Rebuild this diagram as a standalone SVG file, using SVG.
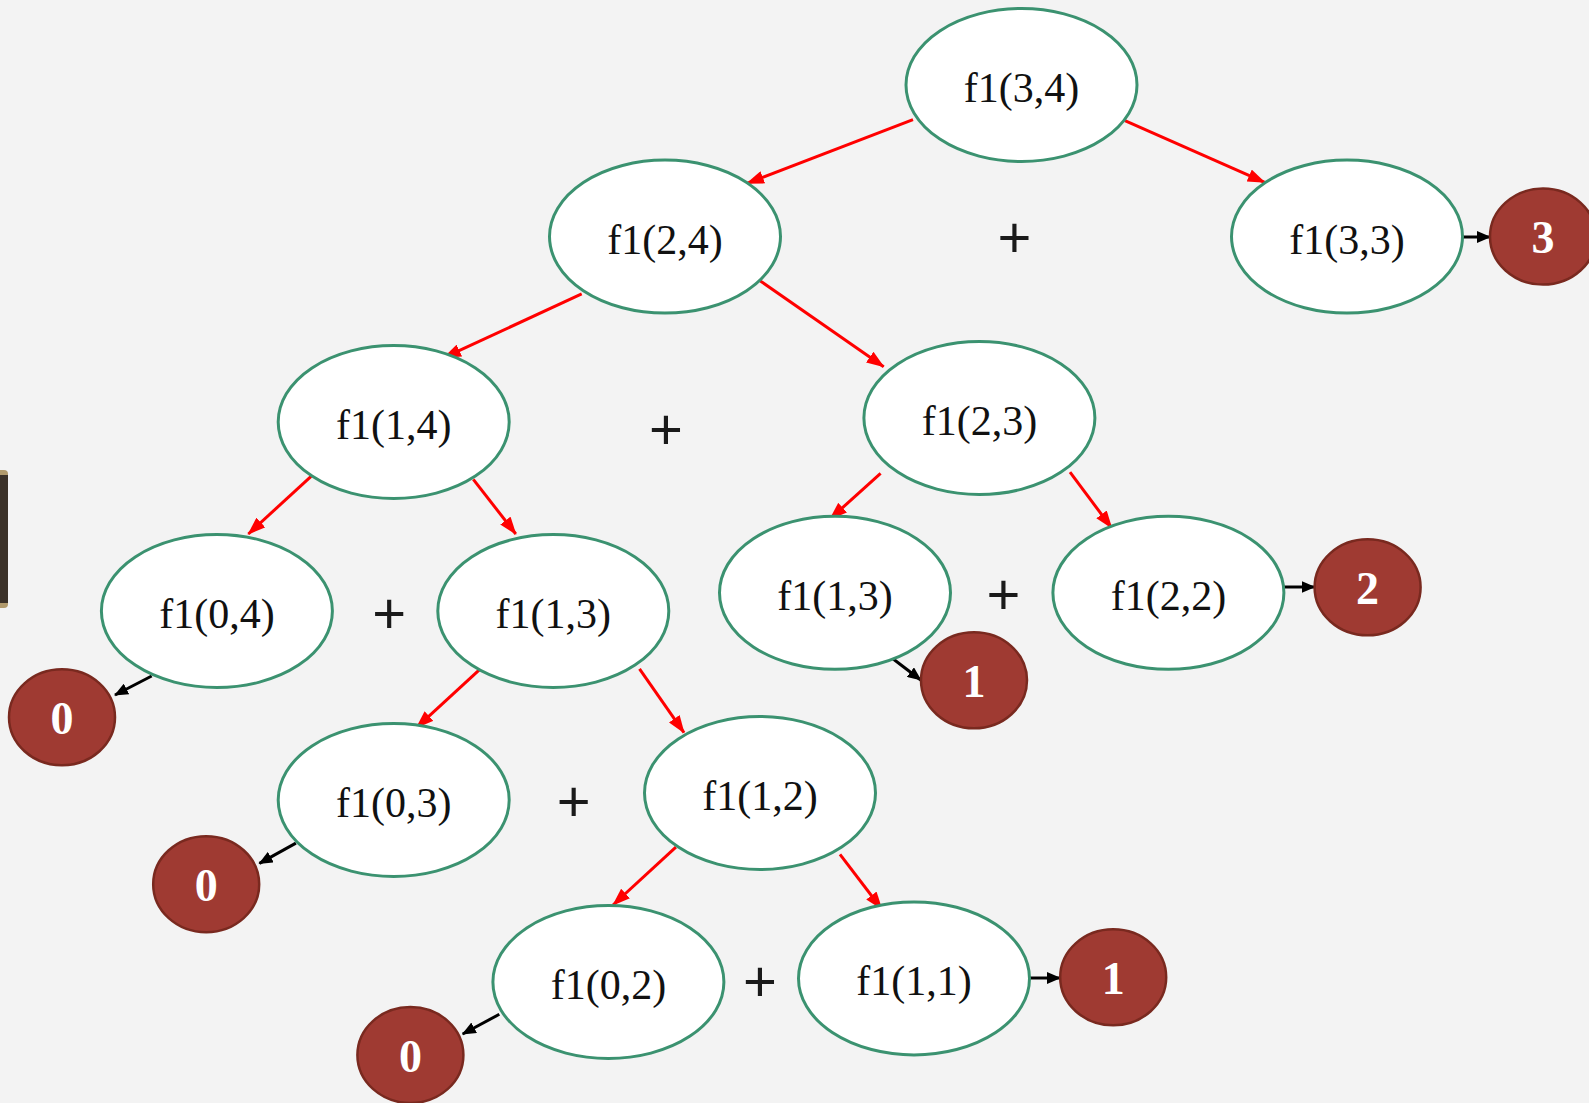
<svg xmlns="http://www.w3.org/2000/svg" width="1589" height="1103" viewBox="0 0 1589 1103">
  <style>
    .call ellipse { fill: #ffffff; stroke: #3b9270; stroke-width: 3; }
    .call text { font-family: "Liberation Serif", "DejaVu Serif", serif; font-size: 42px; fill: #111111; text-anchor: middle; }
    .res ellipse { fill: #9f3a32; stroke: #79291f; stroke-width: 2.5; }
    .res text { font-family: "Liberation Serif", "DejaVu Serif", serif; font-size: 46px; font-weight: bold; fill: #ffffff; text-anchor: middle; }
    .plus { font-family: "Liberation Sans", Arial, sans-serif; font-size: 58px; fill: #1a1a1a; text-anchor: middle; }
    .rec { stroke: #ff0000; stroke-width: 3; fill: none; marker-end: url(#redHead); }
    .ret { stroke: #000000; stroke-width: 3; fill: none; marker-end: url(#blackHead); }
  </style>
  <defs>
    <marker id="redHead" markerUnits="userSpaceOnUse" markerWidth="18" markerHeight="13" refX="17" refY="6.5" orient="auto">
      <path d="M0,0 L18,6.5 L0,13 z" fill="#ff0000"/>
    </marker>
    <marker id="blackHead" markerUnits="userSpaceOnUse" markerWidth="14" markerHeight="12" refX="13" refY="6" orient="auto">
      <path d="M0,0 L14,6 L0,12 z" fill="#000000"/>
    </marker>
  </defs>

  <!-- paper background -->
  <rect x="0" y="0" width="1589" height="1103" fill="#f3f3f3"/>

  <!-- dark bar at the left edge -->
  <g id="edge-bar">
    <rect x="-4" y="470" width="12" height="138" rx="4" fill="#b19a6c"/>
    <rect x="-4" y="475" width="12" height="128" fill="#3b3128"/>
  </g>

  <!-- recursive calls (red) and returned values (black) -->
  <g id="connectors">
    <line class="rec" x1="913" y1="119.6" x2="746.9" y2="183.4"/>
    <line class="rec" x1="1124.9" y1="120.6" x2="1264.7" y2="182.4"/>
    <line class="rec" x1="581.7" y1="293.9" x2="443.9" y2="357.7"/>
    <line class="rec" x1="760" y1="280.7" x2="883.7" y2="366.8"/>
    <line class="rec" x1="311.1" y1="476.3" x2="248.3" y2="534"/>
    <line class="rec" x1="473.3" y1="479.3" x2="515.8" y2="534"/>
    <line class="rec" x1="880.6" y1="473.3" x2="830" y2="519"/>
    <line class="rec" x1="1070" y1="472.2" x2="1111.7" y2="528"/>
    <line class="rec" x1="479.3" y1="669.9" x2="416.5" y2="727.6"/>
    <line class="rec" x1="639.5" y1="668.8" x2="684" y2="732.7"/>
    <line class="rec" x1="675.9" y1="847.2" x2="613" y2="905"/>
    <line class="rec" x1="840" y1="854.3" x2="881.7" y2="909"/>

    <line class="ret" x1="1462" y1="237" x2="1490" y2="237"/>
    <line class="ret" x1="1284" y1="587" x2="1314.5" y2="587"/>
    <line class="ret" x1="885.7" y1="653.3" x2="920.7" y2="680"/>
    <line class="ret" x1="151.7" y1="676" x2="115" y2="695"/>
    <line class="ret" x1="295.9" y1="843.1" x2="259.4" y2="863.4"/>
    <line class="ret" x1="499.3" y1="1014.3" x2="462.7" y2="1034"/>
    <line class="ret" x1="1029.6" y1="978" x2="1060" y2="978"/>
  </g>

  <!-- call nodes -->
  <g id="f1-3-4" class="call"><ellipse cx="1021.5" cy="85" rx="115.5" ry="76.5"/><text x="1021.5" y="102">f1(3,4)</text></g>
  <g id="f1-2-4" class="call"><ellipse cx="665" cy="236.6" rx="115.5" ry="76.5"/><text x="665" y="253.6">f1(2,4)</text></g>
  <g id="f1-3-3" class="call"><ellipse cx="1347" cy="236.6" rx="115.5" ry="76.5"/><text x="1347" y="253.6">f1(3,3)</text></g>
  <g id="f1-1-4" class="call"><ellipse cx="393.7" cy="422" rx="115.5" ry="76.5"/><text x="393.7" y="439">f1(1,4)</text></g>
  <g id="f1-2-3" class="call"><ellipse cx="979.4" cy="418" rx="115.5" ry="76.5"/><text x="979.4" y="435">f1(2,3)</text></g>
  <g id="f1-0-4" class="call"><ellipse cx="216.9" cy="611" rx="115.5" ry="76.5"/><text x="216.9" y="628">f1(0,4)</text></g>
  <g id="f1-1-3a" class="call"><ellipse cx="553.3" cy="611" rx="115.5" ry="76.5"/><text x="553.3" y="628">f1(1,3)</text></g>
  <g id="f1-1-3b" class="call"><ellipse cx="835" cy="592.8" rx="115.5" ry="76.5"/><text x="835" y="609.8">f1(1,3)</text></g>
  <g id="f1-2-2" class="call"><ellipse cx="1168.4" cy="592.8" rx="115.5" ry="76.5"/><text x="1168.4" y="609.8">f1(2,2)</text></g>
  <g id="f1-0-3" class="call"><ellipse cx="393.7" cy="800" rx="115.5" ry="76.5"/><text x="393.7" y="817">f1(0,3)</text></g>
  <g id="f1-1-2" class="call"><ellipse cx="760" cy="793" rx="115.5" ry="76.5"/><text x="760" y="810">f1(1,2)</text></g>
  <g id="f1-0-2" class="call"><ellipse cx="608.4" cy="982" rx="115.5" ry="76.5"/><text x="608.4" y="999">f1(0,2)</text></g>
  <g id="f1-1-1" class="call"><ellipse cx="914" cy="978.4" rx="115.5" ry="76.5"/><text x="914" y="995.4">f1(1,1)</text></g>

  <!-- returned values -->
  <g id="val-3" class="res"><ellipse cx="1543" cy="236.6" rx="53" ry="48"/><text x="1543" y="253">3</text></g>
  <g id="val-2" class="res"><ellipse cx="1367.6" cy="587.3" rx="53" ry="48"/><text x="1367.6" y="604">2</text></g>
  <g id="val-1a" class="res"><ellipse cx="974" cy="680.3" rx="53" ry="48"/><text x="974" y="697">1</text></g>
  <g id="val-0a" class="res"><ellipse cx="62" cy="717.3" rx="53" ry="48"/><text x="62" y="734">0</text></g>
  <g id="val-0b" class="res"><ellipse cx="206.2" cy="884.2" rx="53" ry="48"/><text x="206.2" y="901">0</text></g>
  <g id="val-0c" class="res"><ellipse cx="410.4" cy="1055" rx="53" ry="48"/><text x="410.4" y="1072">0</text></g>
  <g id="val-1b" class="res"><ellipse cx="1113.2" cy="977.3" rx="53" ry="48"/><text x="1113.2" y="994">1</text></g>

  <!-- plus signs between sibling calls -->
  <g id="plus-signs">
    <text class="plus" x="1014.4" y="257">+</text>
    <text class="plus" x="666" y="449">+</text>
    <text class="plus" x="389.1" y="633">+</text>
    <text class="plus" x="1003.5" y="614">+</text>
    <text class="plus" x="573.6" y="820.5">+</text>
    <text class="plus" x="760" y="1001">+</text>
  </g>
</svg>
